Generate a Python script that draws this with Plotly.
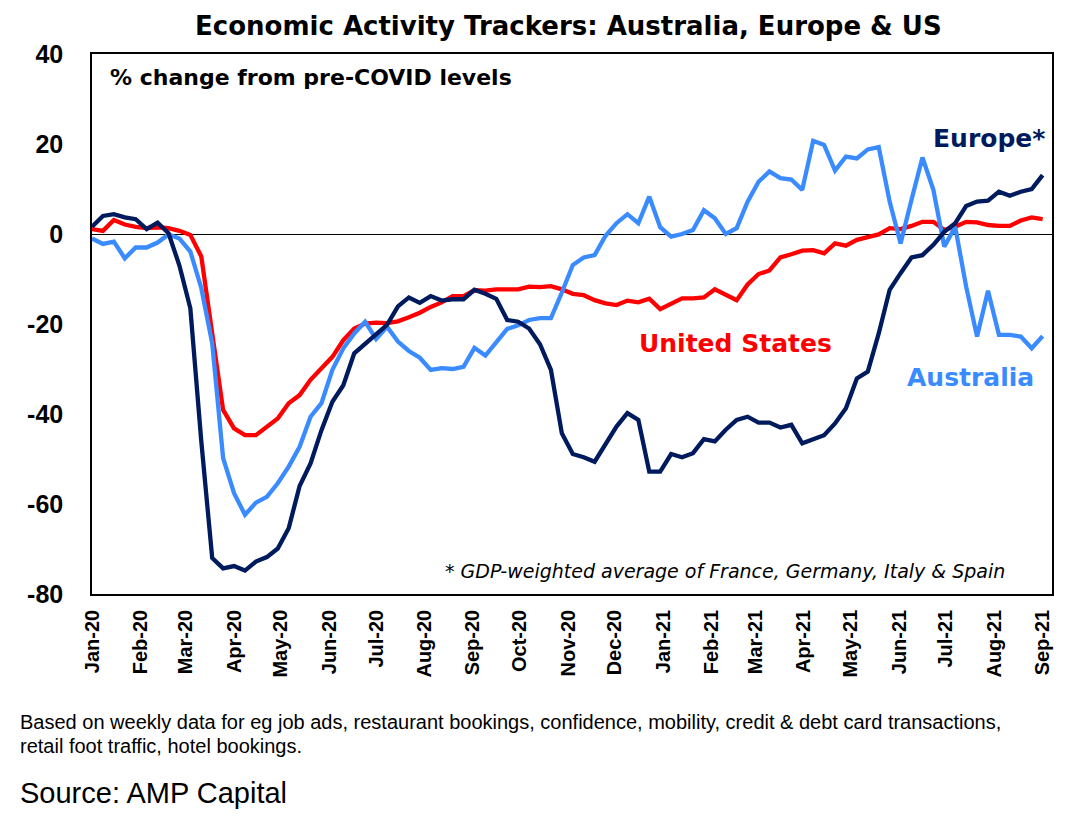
import pandas as pd
import plotly.graph_objects as go

# weekly readings, % change from pre-COVID levels
weeks = pd.date_range("2020-01-01", periods=88, freq="7D")

europe = [1.6, 4.0, 4.4, 3.7, 3.3, 1.1, 2.5, 0.2, -7.0, -16.5,
          -46.0, -72.0, -74.3, -73.8, -74.8, -72.8, -71.8, -69.9, -65.4, -56.0,
          -51.0, -43.6, -37.3, -33.6, -26.5, -24.3, -22.1, -20.2, -16.1, -14.1,
          -15.3, -13.8, -14.8, -14.5, -14.5, -12.4, -13.3, -14.4, -19.1, -19.5,
          -21.0, -24.5, -30.2, -44.3, -48.9, -49.6, -50.6, -46.5, -42.8, -39.8,
          -41.3, -52.8, -52.8, -48.9, -49.6, -48.7, -45.6, -46.1, -43.5, -41.3,
          -40.6, -41.9, -41.9, -43.0, -42.4, -46.5, -45.6, -44.7, -42.1, -38.7,
          -32.1, -30.6, -22.1, -12.4, -8.7, -5.2, -4.7, -2.4, 0.5, 2.4,
          6.2, 7.2, 7.4, 9.4, 8.5, 9.4, 10.0, 13.1]

us = [1.1, 0.7, 3.1, 2.1, 1.6, 1.3, 1.5, 1.3, 0.7, -0.2,
      -5.0, -22.0, -39.1, -43.2, -44.7, -44.7, -42.8, -41.0, -37.6, -35.8,
      -32.4, -29.8, -27.3, -23.6, -21.0, -19.9, -19.7, -19.8, -19.4, -18.5,
      -17.5, -16.2, -15.2, -13.8, -13.8, -12.5, -12.6, -12.3, -12.3, -12.3,
      -11.7, -11.8, -11.6, -12.3, -13.3, -13.6, -14.7, -15.4, -15.8, -14.8,
      -15.2, -14.4, -16.7, -15.6, -14.3, -14.3, -14.1, -12.3, -13.5, -14.7,
      -11.2, -8.9, -8.1, -5.2, -4.5, -3.7, -3.6, -4.3, -2.1, -2.6,
      -1.3, -0.6, -0.1, 1.3, 1.1, 1.8, 2.7, 2.7, 0.9, 1.6,
      2.7, 2.6, 2.0, 1.8, 1.8, 3.0, 3.7, 3.3]

australia = [-1.0, -2.2, -1.7, -5.4, -3.0, -3.0, -1.9, -0.1, -1.0, -3.9,
             -12.0, -24.3, -49.8, -57.6, -62.4, -59.7, -58.4, -55.4, -51.7, -47.3,
             -40.6, -37.6, -30.2, -25.4, -22.1, -19.5, -23.3, -20.6, -23.9, -26.0,
             -27.5, -30.2, -29.8, -30.0, -29.5, -25.3, -27.0, -24.0, -21.1, -20.3,
             -19.1, -18.7, -18.7, -13.0, -6.9, -5.2, -4.7, -0.4, 2.4, 4.4,
             2.4, 8.3, 1.5, -0.6, 0.0, 0.9, 5.3, 3.5, 0.0, 1.3,
             7.2, 11.6, 13.9, 12.4, 12.1, 9.8, 20.7, 19.8, 14.1, 17.2,
             16.8, 18.8, 19.3, 7.2, -2.1, 7.6, 17.0, 9.8, -2.8, 1.6,
             -11.7, -22.8, -12.6, -22.4, -22.4, -22.8, -25.4, -22.7]

y_ticks = [-80, -60, -40, -20, 0, 20, 40]
y_tick_text = ["-80", "-60", "-40", "-20", "0", "20", "40"]

NAVY = "#001A5E"
LIGHT = "#3A8BFF"
RED = "#FF0000"
ARIAL = "Liberation Sans, Arial, sans-serif"
WIDE = "DejaVu Sans, Liberation Sans, sans-serif"

fig = go.Figure()
fig.add_trace(go.Scatter(x=weeks, y=us, mode="lines", name="United States",
                         line=dict(color=RED, width=4.3)))
fig.add_trace(go.Scatter(x=weeks, y=australia, mode="lines", name="Australia",
                         line=dict(color=LIGHT, width=4.3)))
fig.add_trace(go.Scatter(x=weeks, y=europe, mode="lines", name="Europe*",
                         line=dict(color=NAVY, width=4.3)))

def note(text, x, y, size, color="black", xanchor="left", yanchor="middle",
         bold=True, italic=False, family=WIDE):
    if bold:
        text = "<b>" + text + "</b>"
    if italic:
        text = "<i>" + text + "</i>"
    fig.add_annotation(text=text, x=x, y=y, xref="paper", yref="paper",
                       xanchor=xanchor, yanchor=yanchor, showarrow=False,
                       font=dict(size=size, color=color, family=family))

# plot area sits at 92..1052 px across, 54..594 px down on the page
px = lambda v: (v - 92) / 960
py = lambda v: (594 - v) / 540

note("Economic Activity Trackers: Australia, Europe &amp; US", px(568), py(9), 26,
     xanchor="center", yanchor="top")
note("% change from pre-COVID levels", px(108), py(78), 22)
note("Europe*", px(1047), py(138), 25, color=NAVY, xanchor="right")
note("United States", px(735), py(344), 25, color=RED, xanchor="center")
note("Australia", px(905), py(377), 25, color=LIGHT)
note("* GDP-weighted average of France, Germany, Italy &amp; Spain", px(1007), py(571),
     19, xanchor="right", bold=False, italic=True)
note("Based on weekly data for eg job ads, restaurant bookings, confidence, mobility, "
     "credit &amp; debt card transactions,", px(18), py(722), 20, bold=False, family=ARIAL)
note("retail foot traffic, hotel bookings.", px(18), py(746), 20, bold=False, family=ARIAL)
note("Source: AMP Capital", px(18), py(793), 29, bold=False, family=ARIAL)

# page body adds an 8 px margin, so the figure is 16 px smaller than the window
fig.update_layout(
    width=1071, height=808,
    margin=dict(l=84, r=27, t=46, b=222),
    plot_bgcolor="white", paper_bgcolor="white",
    showlegend=False,
    font=dict(family=ARIAL, color="black"),
)
fig.update_xaxes(
    range=["2020-01-01", "2021-09-07"],
    dtick="M1", tick0="2020-01-01", tickformat="%b-%y", tickangle=-90,
    tickfont=dict(size=20, family=ARIAL, weight="bold"),
    showgrid=False, showline=True, linecolor="black", linewidth=1.5, mirror=True,
    ticks="", ticklabelstandoff=6,
)
fig.update_yaxes(
    range=[-80, 40], tickmode="array", tickvals=y_ticks, ticktext=y_tick_text,
    tickfont=dict(size=25, family=ARIAL, weight="bold"),
    showgrid=False, showline=True, linecolor="black", linewidth=1.5, mirror=True,
    zeroline=True, zerolinecolor="black", zerolinewidth=1,
    ticks="", ticklabelstandoff=22,
)

fig.write_html("out.html")
